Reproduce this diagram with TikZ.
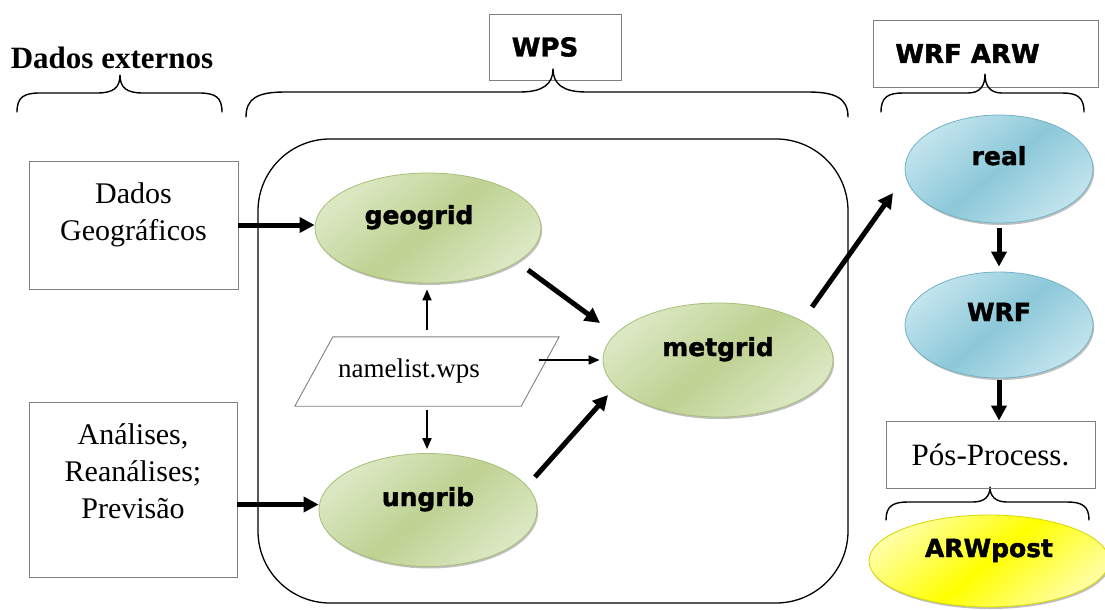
\documentclass[tikz,border=0pt]{standalone}
\usepackage{fontspec}
\setmainfont{Liberation Serif}
\newfontfamily\hdfont{DejaVu Sans}[BoldFont={DejaVu Sans Bold}, BoldFeatures={FakeBold=1.6}]
\usetikzlibrary{arrows.meta,shapes.geometric,shadows,calc}

\definecolor{grnL}{RGB}{220,232,196}
\definecolor{grnD}{RGB}{190,210,146}
\definecolor{grnE}{RGB}{168,190,120}
\definecolor{bluL}{RGB}{194,228,237}
\definecolor{bluD}{RGB}{140,200,217}
\definecolor{bluE}{RGB}{115,178,198}
\definecolor{yelL}{RGB}{255,255,160}
\definecolor{yelD}{RGB}{255,255,0}
\definecolor{yelE}{RGB}{215,215,0}
\definecolor{boxgray}{RGB}{128,128,128}

\begin{document}
\begin{tikzpicture}[x=1pt,y=-1pt,
  greybox/.style={draw=boxgray, line width=0.9pt, inner sep=0pt, align=center, font=\fontsize{30}{37}\selectfont},
  hdbox/.style={draw=boxgray, line width=0.9pt, inner sep=0pt, font=\hdfont\bfseries\fontsize{26}{30}\selectfont},
  proc/.style={ellipse, inner sep=0pt, line width=0.8pt, font=\hdfont\bfseries\fontsize{25}{30}\selectfont, text height=19pt, text depth=27pt, drop shadow={shadow xshift=1.2pt, shadow yshift=-2pt, opacity=0.5}},
  greenell/.style={proc, draw=grnE, top color=grnL, bottom color=grnL, middle color=grnD, shading angle=40},
  blueell/.style={proc, draw=bluE, top color=bluL, bottom color=bluL, middle color=bluD, shading angle=40},
  yellowell/.style={proc, draw=yelE, top color=yelL, bottom color=yelL, middle color=yelD, shading angle=40},
  bigarrow/.style={line width=5pt, -{Triangle[length=15pt,width=15pt]}},
  smallarrow/.style={line width=1.8pt, -{Triangle[length=11pt,width=9pt]}},
  bracepath/.style={line width=1.4pt, line join=round, line cap=round}
]
\useasboundingbox (0,0) rectangle (1105,610);

% headers
\node[font=\bfseries\fontsize{31}{36}\selectfont, anchor=base] (dext) at (112,68) {Dados externos};
\node[hdbox, minimum width=132pt, minimum height=66pt] (wpsh) at (555,47) {WPS\hspace*{20pt}};
\node[hdbox, minimum width=225pt, minimum height=67pt] (wrfh) at (985.5,53.5) {WRF ARW\hspace*{36pt}};

% braces
\draw[bracepath] (17,112) .. controls (17,97) and (24,93) .. (40,93) -- (97,93) .. controls (113,93) and (120,88) .. (120,75) .. controls (120,88) and (127,93) .. (143,93) -- (199,93) .. controls (215,93) and (222,97) .. (222,112);
\draw[bracepath] (246,117) .. controls (246,98) and (258,92) .. (285,92) -- (520,92) .. controls (543,92) and (553,84) .. (553,69) .. controls (553,84) and (563,92) .. (586,92) -- (808,92) .. controls (835,92) and (848,98) .. (848,117);
\draw[bracepath] (881,112) .. controls (881,97) and (888,93) .. (903,93) -- (968,93) .. controls (980,93) and (985,86) .. (985,74) .. controls (985,86) and (990,93) .. (1002,93) -- (1062,93) .. controls (1077,93) and (1084,97) .. (1084,112);
\draw[bracepath] (886,520) .. controls (886,506) and (893,502) .. (908,502) -- (973,502) .. controls (985,502) and (990,496) .. (990,487) .. controls (990,496) and (995,502) .. (1007,502) -- (1067,502) .. controls (1082,502) and (1089,506) .. (1089,520);

% WPS container
\node[draw=black, line width=1.3pt, rounded corners=72pt, minimum width=590pt, minimum height=464pt] (wpsbox) at (553,371) {};

% left boxes
\node[greybox, minimum width=209pt, minimum height=128pt, text depth=27.5pt] (dgeo) at (133.5,225) {Dados\\Geográficos};
\node[greybox, minimum width=208pt, minimum height=175pt, text depth=37.5pt] (anal) at (133,489.5) {Análises,\\Reanálises;\\Previsão};

% namelist (parallelogram drawn from the node's corners)
\node[minimum width=264pt, minimum height=69pt, inner sep=0pt, font=\fontsize{27}{30}\selectfont] (namelist) at (427,371.5) {namelist.wps\hspace*{36pt}};
\draw[draw=boxgray, line width=0.9pt, line join=miter] (namelist.south west) -- ([xshift=38pt]namelist.north west) -- (namelist.north east) -- ([xshift=-38pt]namelist.south east) -- cycle;

% process ellipses
\node[greenell, minimum width=226pt, minimum height=110pt] (geogrid) at (428,228) {geogrid\hspace*{18pt}};
\node[greenell, minimum width=218pt, minimum height=113pt] (ungrib) at (428,510) {ungrib};
\node[greenell, minimum width=230pt, minimum height=114pt] (metgrid) at (718,360) {metgrid};
\node[blueell, minimum width=188pt, minimum height=108pt] (real) at (999,169) {real};
\node[blueell, minimum width=188pt, minimum height=106pt] (wrf) at (999,325) {WRF};

% post-processing
\node[greybox, font=\fontsize{31}{36}\selectfont, minimum width=209pt, minimum height=67pt] (pos) at (990.5,454.5) {Pós-Process.};
\node[yellowell, minimum width=240pt, minimum height=92pt] (arwpost) at (989,561) {ARWpost};

% arrows
\coordinate (aout) at ([yshift=-15pt]anal.east);
\draw[bigarrow] (dgeo.east) -- (dgeo.east -| geogrid.west);
\draw[bigarrow] (aout) -- (aout -| ungrib.west);
\draw[bigarrow] ($(geogrid)+(100,42)$) -- ($(metgrid)+(-118,-37)$);
\draw[bigarrow] ($(ungrib)+(107,-33)$) -- ($(metgrid)+(-110,35)$);
\draw[bigarrow] ($(metgrid)+(94,-53)$) -- ($(real)+(-106,24)$);
\draw[bigarrow] ([yshift=-5pt]real.south) -- ([yshift=5pt]wrf.north);
\draw[bigarrow] ([yshift=-2pt]wrf.south) -- (wrf.south |- pos.north);
\coordinate (nlout) at ([xshift=-20pt]namelist.east);
\draw[smallarrow] ([yshift=7pt]namelist.north) -- ([yshift=-6pt]namelist.north |- geogrid.south);
\draw[smallarrow] ([yshift=-4pt]namelist.south) -- ([yshift=4pt]namelist.south |- ungrib.north);
\draw[smallarrow] (nlout |- metgrid.west) -- ([xshift=-3pt]metgrid.west);
\end{tikzpicture}
\end{document}
